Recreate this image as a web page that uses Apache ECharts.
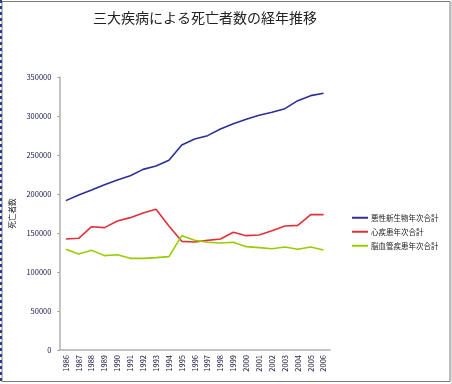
<!DOCTYPE html>
<html><head><meta charset="utf-8">
<script src="https://cdn.jsdelivr.net/npm/echarts@6/dist/echarts.min.js"></script>
<style>html,body{margin:0;padding:0;background:#fff}#c{width:452px;height:384px}</style>
</head><body><div id="c"></div>
<script>
const years = ['1986','1987','1988','1989','1990','1991','1992','1993','1994','1995','1996','1997','1998','1999','2000','2001','2002','2003','2004','2005','2006'];
const cancer = [191500,198700,205200,212000,218000,223500,231600,236000,243200,262900,270500,274800,283400,290200,295800,300900,304700,309400,319700,326100,329100];
const heart = [142300,143200,158100,156900,165400,169700,175700,180400,159000,139300,138500,140600,142300,150900,146600,147500,153000,159000,159800,173500,173500];
const stroke = [129100,123100,127800,121000,122200,117500,117500,118400,119700,146600,140600,138100,137200,138100,132500,131200,129900,132100,129100,132100,128200];
const names = ['悪性新生物年次合計','心疾患年次合計','脳血管疾患年次合計'];
const yTicks = [0,50000,100000,150000,200000,250000,300000,350000];

const font = '"Noto Sans CJK JP", sans-serif';
const chart = echarts.init(document.getElementById('c'), null, {renderer:'canvas'});
const mk = (name, data, color) => ({
  name, type:'line', data, symbol:'none', smooth:false,
  lineStyle:{color, width:1.6}, itemStyle:{color}
});
chart.setOption({
  animation:false,
  backgroundColor:'#fff',
  textStyle:{fontFamily:font},
  graphic:[
    {type:'rect', shape:{x:2, y:1.5, width:448, height:380}, style:{fill:'none', stroke:'#7a7a7a', lineWidth:1}, silent:true},
    {type:'line', shape:{x1:1, y1:0, x2:1, y2:384}, style:{stroke:'#2a3a9a', lineWidth:2, lineDash:[3,3]}, silent:true},
    {type:'rect', shape:{x:451, y:0, width:1, height:384}, style:{fill:'#d8d8d8'}, silent:true}
  ],
  title:{text:'三大疾病による死亡者数の経年推移', left:88, top:6,
    textStyle:{fontSize:14, fontWeight:'normal', color:'#222', fontFamily:font}},
  legend:{orient:'vertical', left:347, top:209, itemWidth:16, itemHeight:2, itemGap:6.5, icon:'rect',
    textStyle:{fontSize:7.5, color:'#222', fontFamily:font, padding:[0,0,0,-2]},
    data:names},
  grid:{left:55, right:122, top:77, bottom:34, containLabel:false},
  xAxis:{type:'category', data:years, boundaryGap:true,
    axisLine:{lineStyle:{color:'#b0b0b0', width:1.5}},
    axisTick:{show:false},
    axisLabel:{rotate:90, fontSize:7.5, color:'#1a1a3a', margin:5, interval:0}},
  yAxis:{type:'value', min:0, max:350000, interval:50000,
    name:'死亡者数', nameLocation:'middle', nameRotate:90, nameGap:43,
    nameTextStyle:{fontSize:7.5, color:'#222'},
    axisLine:{show:true, lineStyle:{color:'#b0b0b0', width:1.5}},
    axisTick:{show:true, length:2, lineStyle:{color:'#999'}},
    splitLine:{show:false},
    axisLabel:{fontSize:7.5, color:'#1a1a4a', margin:8, formatter:v=>yTicks.includes(v)?String(v):''}},
  series:[mk(names[0], cancer, '#2e2e96'), mk(names[1], heart, '#e0303a'), mk(names[2], stroke, '#99cc00')]
});
</script></body></html>
